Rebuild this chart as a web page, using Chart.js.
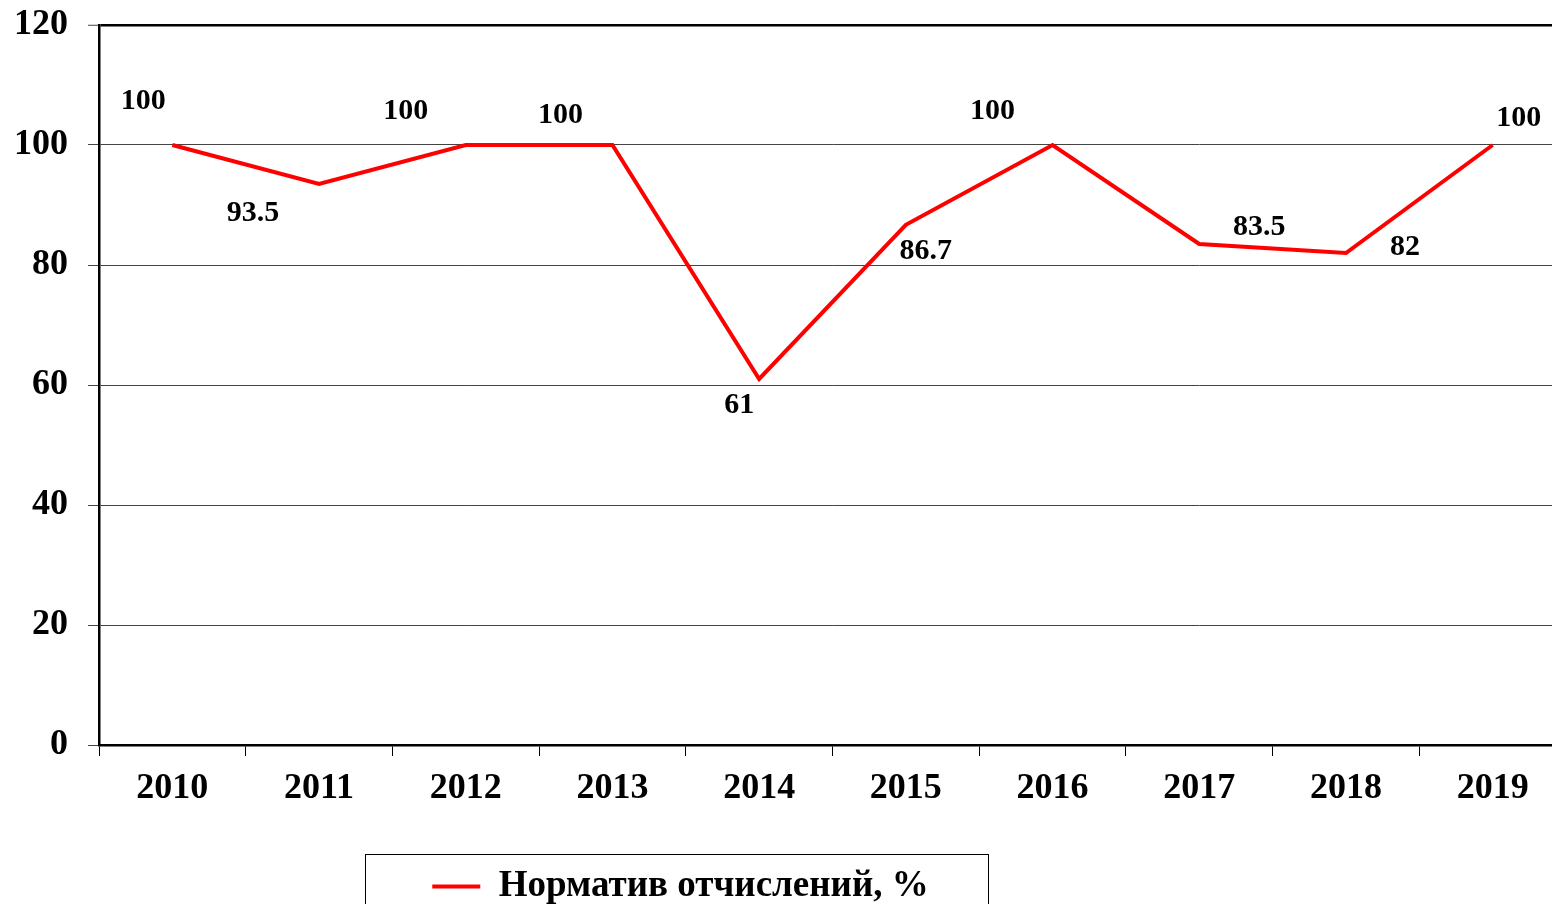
<!DOCTYPE html>
<html lang="ru">
  <head>
    <meta charset="UTF-8" />
    <title>Норматив отчислений</title>
    <script src="https://cdn.jsdelivr.net/npm/chart.js@4.4.0/dist/chart.umd.min.js"></script>
    <style>
      html, body { margin: 0; padding: 0; overflow: hidden; background: #fff; }
      canvas { display: block; }
    </style>
  </head>
  <body>
    <canvas id="Graph" width="1566" height="904"></canvas>

    <script>
      const years = ['2010', '2011', '2012', '2013', '2014', '2015', '2016', '2017', '2018', '2019'];
      const rates = [100, 93.5, 100, 100, 61, 86.7, 100, 83.5, 82, 100];
      const rateLabels = ['100', '93.5', '100', '100', '61', '86.7', '100', '83.5', '82', '100'];
      const seriesName = 'Норматив отчислений, %';

      // where each value label sits relative to its point
      const labelDx = [-29, -66, -60, -52, -20, 20, -60, 60, 59, 26];
      const labelDy = [-44, 29, -34, -30, 26, 26, -34, -17, -6, -27];

      const serif = '"Liberation Serif", "Times New Roman", serif';

      const valueLabels = {
        id: 'valueLabels',
        afterDatasetsDraw(chart) {
          const ctx = chart.ctx;
          const meta = chart.getDatasetMeta(0);
          ctx.save();
          ctx.font = 'bold 30px ' + serif;
          ctx.fillStyle = '#000';
          ctx.textAlign = 'center';
          ctx.textBaseline = 'middle';
          meta.data.forEach((pt, i) => {
            ctx.fillText(rateLabels[i], pt.x + labelDx[i], pt.y + labelDy[i]);
          });
          ctx.restore();
        }
      };

      // legend sits in a framed box under the axis, not centred on the canvas
      const legendFrame = {
        id: 'legendFrame',
        beforeDraw(chart) {
          const lg = chart.legend;
          const h = lg.height;
          lg.left = 369;
          lg.right = 992;
          lg.width = 623;
          lg.top = 858;
          lg.bottom = 858 + h;
        },
        afterDraw(chart) {
          const ctx = chart.ctx;
          ctx.save();
          ctx.strokeStyle = '#000';
          ctx.lineWidth = 1;
          ctx.strokeRect(365.5, 854.5, 623, 80);
          ctx.restore();
        }
      };

      const element = document.getElementById('Graph').getContext('2d');
      const Graph = new Chart(element, {
        type: 'line',
        data: {
          labels: years,
          datasets: [
            {
              label: seriesName,
              data: rates,
              borderColor: '#ff0000',
              backgroundColor: '#ff0000',
              borderWidth: 4,
              pointRadius: 0,
              tension: 0,
              fill: false
            }
          ]
        },
        options: {
          responsive: false,
          animation: false,
          layout: { padding: { top: 25, left: 0, right: 0, bottom: 0 } },
          plugins: {
            tooltip: { enabled: false },
            legend: {
              position: 'bottom',
              labels: {
                usePointStyle: true,
                pointStyle: 'line',
                pointStyleWidth: 48,
                padding: 10,
                color: '#000',
                font: { family: serif, size: 37, weight: 'bold' }
              }
            }
          },
          scales: {
            x: {
              offset: true,
              afterFit(scale) {
                const lh = scale.chart.legend ? scale.chart.legend.height : 0;
                scale.height = scale.chart.height - 745 - lh;
              },
              grid: {
                offset: true,
                drawOnChartArea: false,
                drawTicks: true,
                tickLength: 11,
                color: '#000',
                lineWidth: 1
              },
              border: { display: true, color: '#000', width: 2.5 },
              ticks: {
                padding: 11,
                color: '#000',
                maxRotation: 0,
                font: { family: serif, size: 36, weight: 'bold' }
              }
            },
            y: {
              min: 0,
              max: 120,
              afterFit(scale) {
                scale.width = 99;
                scale.paddingTop = 0;
                scale.paddingBottom = 0;
              },
              grid: {
                color: (c) => (c.tick && c.tick.value === 120 ? '#000' : '#444'),
                lineWidth: (c) => (c.tick && c.tick.value === 120 ? 2.5 : 1),
                tickLength: 11,
                tickColor: '#444',
                tickWidth: 1
              },
              border: { display: true, color: '#000', width: 2.5 },
              ticks: {
                stepSize: 20,
                padding: 20,
                color: '#000',
                font: { family: serif, size: 36, weight: 'bold' }
              }
            }
          }
        },
        plugins: [valueLabels, legendFrame]
      });
    </script>
  </body>
</html>
